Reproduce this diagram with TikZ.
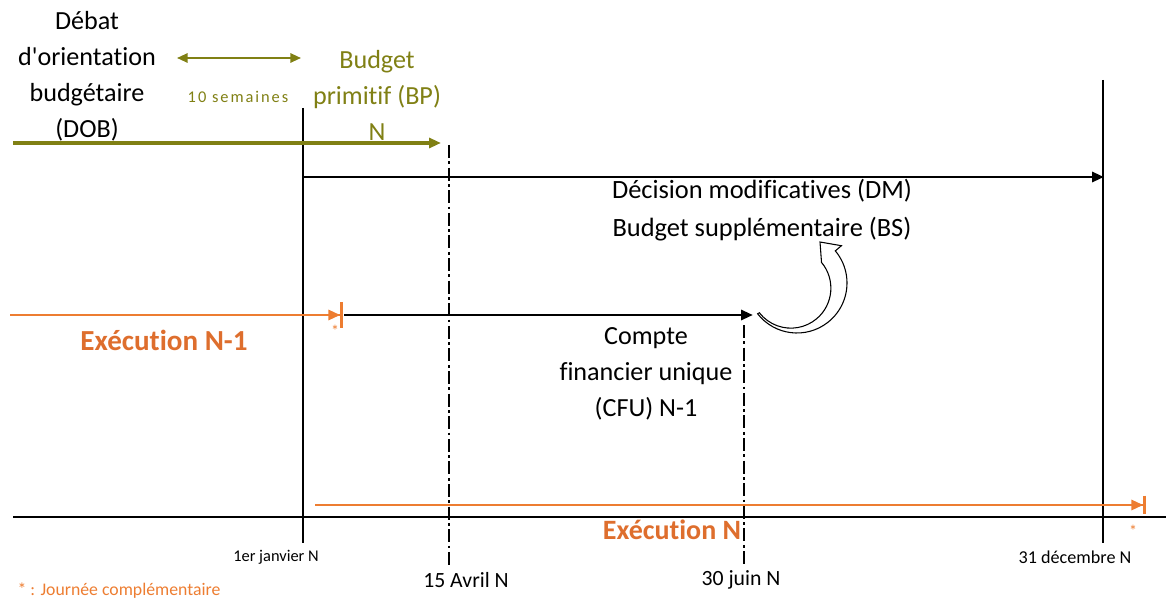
\documentclass[tikz,border=0pt]{standalone}
\usepackage{fontspec}
\newfontfamily\cfont{Carlito}[Ligatures=NoCommon]
\usetikzlibrary{arrows.meta,calc}
\definecolor{olivec}{RGB}{128,128,20}
\definecolor{orangec}{RGB}{237,125,49}
\definecolor{orangetxt}{RGB}{222,110,45}
\begin{document}
\begin{tikzpicture}[x=0.75pt,y=-0.75pt,
  lbl/.style={inner sep=0pt,align=center,font=\cfont\fontsize{19.6}{27}\selectfont},
  big/.style={inner sep=0pt,text=orangetxt,font=\cfont\fontsize{21.8}{27}\selectfont\bfseries},
  date/.style={inner sep=0pt,font=\cfont\fontsize{#1}{18}\selectfont},
  vline/.style={line width=1.2pt,black},
  dline/.style={line width=1.2pt,black,dash pattern=on 9.75pt off 2.6pt on 2pt off 2.6pt},
  tip/.style={-{Triangle[length=9pt,width=7.5pt]}},
  barr/.style={line width=2.2pt,orangec,-{Triangle[length=9pt,width=7.5pt]Bar[width=#1,line width=2pt]}},
  ]
\useasboundingbox (0,0) rectangle (1166,599);
% vertical markers
\coordinate (janT) at (303,108); \coordinate (janB) at (303,543);
\coordinate (avrT) at (449,145); \coordinate (avrB) at (449,566);
\coordinate (juiT) at (744,325); \coordinate (juiB) at (744,566);
\coordinate (decT) at (1103,80); \coordinate (decB) at (1103,543);
\draw[vline] (janT) -- (janB);
\draw[vline] (decT) -- (decB);
\draw[dline] (avrT) -- (avrB);
\draw[dline] (juiT) -- (juiB);
% axis
\coordinate (axL) at (13,517); \coordinate (axR) at (1166,517);
\draw[line width=2pt] (axL) -- (axR);
% olive
\coordinate (olA) at (13,143); \coordinate (olB) at (441,143);
\draw[olivec,line width=2.6pt,tip] (olA) -- (olB);
\coordinate (dbA) at (177,58); \coordinate (dbB) at (301,58);
\draw[olivec,line width=1.5pt,{Triangle[length=8pt,width=7pt]}-{Triangle[length=8pt,width=7pt]}] (dbA) -- (dbB);
% DM arrow
\coordinate (dmA) at (303,177); \coordinate (dmB) at (1104,177);
\draw[line width=2.2pt,tip] (dmA) -- (dmB);
% Execution N-1
\coordinate (n1A) at (10,315); \coordinate (n1B) at (343,315);
\draw[barr=19pt] (n1A) -- (n1B);
\coordinate (cfA) at (344,315); \coordinate (cfB) at (753,315);
\draw[line width=2.2pt,tip] (cfA) -- (cfB);
% Execution N
\coordinate (nA) at (315,505); \coordinate (nB) at (1146,505);
\draw[barr=14pt] (nA) -- (nB);
% curved block arrow
\coordinate (cc) at (797,283);
\draw[line width=0.8pt,fill=white]
  ($(cc)+(142:50)$) arc[start angle=142,end angle=-40,radius=50]
  -- ($(cc)+(-40:58)$) -- (820,242) -- ($(cc)+(-40:32)$)
  arc[start angle=-40,end angle=142,radius=40] -- cycle;
% texts
\node[lbl] (dob) at (87,76) {Débat\\d'orientation\\budgétaire\\(DOB)};
\node[lbl,text=olivec] (bp) at (377,95) {Budget\\primitif (BP)\\N};
\node[inner sep=0pt,text=olivec,font=\cfont\fontsize{12.3}{14}\selectfont\addfontfeature{LetterSpace=12}] (sem) at (238,97) {10 semaines};
\node[lbl,font=\cfont\fontsize{19.8}{28}\selectfont] (dm) at (762,210) {Décision modificatives (DM)\\Budget supplémentaire (BS)};
\node[big] (exn1) at (164,340) {Exécution N-1};
\node[lbl] (cfu) at (646,374) {Compte\\financier unique\\(CFU) N-1};
\node[big,font=\cfont\fontsize{21}{27}\selectfont\bfseries] (exn) at (672,530) {Exécution N};
\node[date=12,text=orangec] (st1) at (335,331) {*};
\node[date=12,text=orangec] (st2) at (1133,531) {*};
\node[date=12.3] (d1) at (276,557) {1er janvier N};
\node[date=13.6] (d4) at (1075,557) {31 décembre N};
\node[date=16.3] (d2) at (466,580) {15 Avril N};
\node[date=16.3] (d3) at (741,580) {30 juin N};
\node[date=13.3,text=orangec] (leg) at (119,591) {* : Journée complémentaire};
\end{tikzpicture}
\end{document}
